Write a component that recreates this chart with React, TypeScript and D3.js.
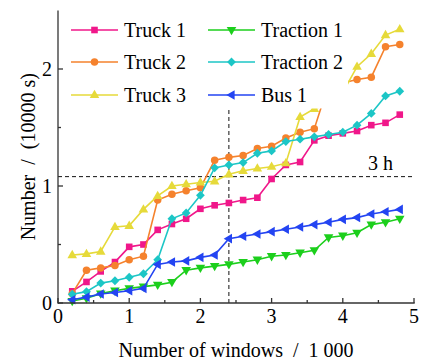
import React from "react";
import * as d3 from "d3";

// Window counts (thousands) at which each series is sampled
const windows = [0.2, 0.4, 0.6, 0.8, 1.0, 1.2, 1.4, 1.6, 1.8, 2.0, 2.2, 2.4, 2.6, 2.8, 3.0, 3.2, 3.4, 3.6, 3.8, 4.0, 4.2, 4.4, 4.6, 4.8];

// Cumulative running time, in units of 10000 s
const truck1 = [0.10, 0.18, 0.27, 0.35, 0.48, 0.50, 0.625, 0.675, 0.72, 0.805, 0.835, 0.855, 0.88, 0.90, 1.06, 1.18, 1.205, 1.39, 1.43, 1.45, 1.47, 1.52, 1.54, 1.61];
const truck2 = [0.08, 0.28, 0.30, 0.32, 0.37, 0.40, 0.88, 0.93, 0.96, 0.985, 1.22, 1.245, 1.26, 1.32, 1.34, 1.41, 1.46, 1.49, 1.87, 1.88, 1.91, 1.93, 2.19, 2.21];
const truck3 = [0.41, 0.42, 0.44, 0.65, 0.66, 0.80, 0.915, 1.00, 1.015, 1.03, 1.04, 1.10, 1.13, 1.15, 1.165, 1.195, 1.59, 1.66, 1.70, 1.80, 2.02, 2.13, 2.29, 2.34];
const traction1 = [0.017, 0.04, 0.08, 0.105, 0.125, 0.14, 0.155, 0.178, 0.28, 0.30, 0.315, 0.33, 0.35, 0.37, 0.40, 0.41, 0.43, 0.45, 0.56, 0.575, 0.60, 0.67, 0.69, 0.72];
const traction2 = [0.075, 0.097, 0.17, 0.19, 0.22, 0.25, 0.37, 0.72, 0.77, 0.92, 1.155, 1.18, 1.20, 1.28, 1.30, 1.38, 1.40, 1.42, 1.44, 1.46, 1.52, 1.62, 1.77, 1.81];
const bus1 = [0.028, 0.05, 0.077, 0.09, 0.105, 0.125, 0.33, 0.35, 0.36, 0.39, 0.41, 0.55, 0.57, 0.59, 0.61, 0.63, 0.65, 0.67, 0.69, 0.715, 0.73, 0.76, 0.78, 0.80];

const seriesNames = ["Truck 1", "Truck 2", "Truck 3", "Traction 1", "Traction 2", "Bus 1"];
const seriesValues = [truck1, truck2, truck3, traction1, traction2, bus1];
const seriesColors = ["#f0178a", "#f5822d", "#e6da3a", "#1ccf1c", "#1cc6c6", "#2344f2"];
const seriesMarkers = ["square", "circle", "triUp", "triDown", "diamond", "triLeft"];

const xTicks = [0, 1, 2, 3, 4, 5];
const xMinor = [0.5, 1.5, 2.5, 3.5, 4.5];
const yTicks = [0, 1, 2];
const yMinor = [0.5, 1.5];

const threeHours = 1.08; // 3 h = 10800 s
const markWindow = 2.4;

const FONT = "'Liberation Serif', 'Times New Roman', serif";

function markerPath(kind: string): string {
  switch (kind) {
    case "square": {
      const h = 3.3;
      return `M${-h},${-h}H${h}V${h}H${-h}Z`;
    }
    case "circle":
      return d3.symbol(d3.symbolCircle, 44)() as string;
    case "triUp": {
      const r = 5.2;
      return `M0,${-r}L${r * 0.92},${r * 0.6}L${-r * 0.92},${r * 0.6}Z`;
    }
    case "triDown": {
      const r = 5.2;
      return `M0,${r}L${r * 0.92},${-r * 0.6}L${-r * 0.92},${-r * 0.6}Z`;
    }
    case "triLeft": {
      const r = 5.2;
      return `M${-r},0L${r * 0.6},${-r * 0.92}L${r * 0.6},${r * 0.92}Z`;
    }
    case "diamond": {
      const r = 4.4;
      return `M0,${-r}L${r},0L0,${r}L${-r},0Z`;
    }
  }
  return "";
}

export default function App() {
  const width = 425;
  const height = 363;
  const x = d3.scaleLinear().domain([0, 5]).range([58, 414]);
  const y = d3.scaleLinear().domain([0, 2.5]).range([303, 10.5]);

  const line = d3
    .line<[number, number]>()
    .x((d) => x(d[0]))
    .y((d) => y(d[1]));

  const legendCols = [71, 208];
  const legendRows = [30, 62, 95];

  return (
    <svg
      width={width}
      height={height}
      style={{ position: "absolute", left: 0, top: 0, background: "#fff" }}
      fontFamily={FONT}
    >
      {/* reference lines */}
      <line
        x1={x(0)}
        x2={x(5)}
        y1={y(threeHours)}
        y2={y(threeHours)}
        stroke="#111"
        strokeWidth={1}
        strokeDasharray="4,3"
      />
      <line
        x1={x(markWindow)}
        x2={x(markWindow)}
        y1={y(0)}
        y2={y(1.8)}
        stroke="#111"
        strokeWidth={1}
        strokeDasharray="4,3"
      />

      {/* series */}
      {seriesValues.map((vals, i) => {
        const pts = windows.map((w, j) => [w, vals[j]] as [number, number]);
        const mp = markerPath(seriesMarkers[i]);
        return (
          <g key={seriesNames[i]}>
            <path d={line(pts) as string} fill="none" stroke={seriesColors[i]} strokeWidth={1.6} />
            {pts.map((p, j) => (
              <path
                key={j}
                d={mp}
                transform={`translate(${x(p[0])},${y(p[1])})`}
                fill={seriesColors[i]}
              />
            ))}
          </g>
        );
      })}

      {/* legend */}
      <rect x={60} y={11} width={288} height={97.5} fill="#fff" />
      {seriesNames.map((name, i) => {
        const cx = legendCols[Math.floor(i / 3)];
        const cy = legendRows[i % 3];
        return (
          <g key={name}>
            <line x1={cx} x2={cx + 47} y1={cy} y2={cy} stroke={seriesColors[i]} strokeWidth={1.6} />
            <path
              d={markerPath(seriesMarkers[i])}
              transform={`translate(${cx + 23.5},${cy})`}
              fill={seriesColors[i]}
            />
            <text x={cx + 53} y={cy} dy="0.35em" fontSize={20} fill="#000">
              {name}
            </text>
          </g>
        );
      })}

      {/* axes */}
      <g stroke="#333" strokeWidth={1.3}>
        <line x1={x(0)} x2={x(5) + 0.7} y1={y(0)} y2={y(0)} />
        <line x1={x(0)} x2={x(0)} y1={y(0) + 0.7} y2={y(2.5)} />
        {xTicks.map((t) => (
          <line key={"xt" + t} x1={x(t)} x2={x(t)} y1={y(0)} y2={y(0) - 5} />
        ))}
        {xMinor.map((t) => (
          <line key={"xm" + t} x1={x(t)} x2={x(t)} y1={y(0)} y2={y(0) - 3} />
        ))}
        {yTicks.map((t) => (
          <line key={"yt" + t} x1={x(0)} x2={x(0) + 5} y1={y(t)} y2={y(t)} />
        ))}
        {yMinor.map((t) => (
          <line key={"ym" + t} x1={x(0)} x2={x(0) + 3} y1={y(t)} y2={y(t)} />
        ))}
      </g>
      {xTicks.map((t) => (
        <text key={"xl" + t} x={x(t)} y={323} textAnchor="middle" fontSize={20} fill="#000">
          {t}
        </text>
      ))}
      {yTicks.map((t) => (
        <text key={"yl" + t} x={52} y={y(t)} dy="0.35em" textAnchor="end" fontSize={20} fill="#000">
          {t}
        </text>
      ))}

      {/* axis titles */}
      <text
        x={236}
        y={357}
        textAnchor="middle"
        fontSize={20}
        fill="#000"
        style={{ whiteSpace: "pre" }}
      >
        {"Number of windows  /  1 000"}
      </text>
      <text
        transform={`translate(35,${(y(0) + y(2.5)) / 2}) rotate(-90)`}
        textAnchor="middle"
        fontSize={20}
        fill="#000"
        style={{ whiteSpace: "pre" }}
      >
        {"Number  /  (10000 s)"}
      </text>

      <text x={393} y={170} textAnchor="end" fontSize={20} fill="#000">
        3 h
      </text>
    </svg>
  );
}
